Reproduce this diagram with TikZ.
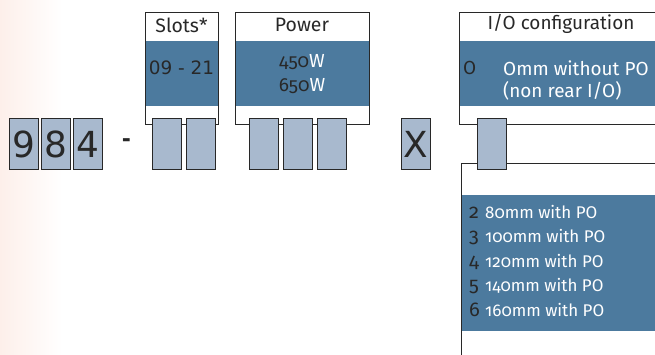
\documentclass[tikz,border=0pt]{standalone}
\usepackage{fontspec}
\setmainfont{Fira Sans}[Numbers=OldStyle]
\newfontfamily\digitfont{DejaVu Sans}
\usepackage{tikz}
\usetikzlibrary{positioning}
\definecolor{codeblue}{RGB}{76,122,158}
\definecolor{codebox}{RGB}{168,185,206}
\definecolor{codeink}{RGB}{40,40,40}
\definecolor{codepeach}{RGB}{253,239,234}

\begin{document}
\begin{tikzpicture}[x=1bp,y=-1bp,
  frame/.style={fill=white,anchor=north west,inner sep=0pt},
  band/.style={fill=codeblue,anchor=north west,inner sep=0pt},
  rim/.style={draw=codeink,line width=0.9pt},
  slot/.style={draw=codeink,line width=0.9pt,fill=codebox,anchor=north west,inner sep=0pt,
    minimum width=29bp,minimum height=51bp,font=\digitfont\fontsize{36}{36}\selectfont,text=codeink},
  head/.style={font=\fontsize{19.5}{20}\selectfont,text=codeink},
  val/.style={font=\fontsize{19}{20}\selectfont,text=codeink},
  wtxt/.style={font=\fontsize{19}{20}\selectfont,text=white},
  key/.style={font=\fontsize{20}{20}\selectfont,text=codeink,inner sep=0pt},
  item/.style={font=\fontsize{17}{18}\selectfont,text=white,inner sep=0pt}]
\useasboundingbox (0,0) rectangle (655,354);
\shade[left color=codepeach,right color=white] (0,0) rectangle (62,354);
% frames with their blue bands (right ones run off the page)
\node[frame,minimum width=73bp,minimum height=112bp] (fSlots) at (145,12) {};
\node[frame,minimum width=134bp,minimum height=112bp] (fPower) at (235,12) {};
\node[frame,minimum width=220bp,minimum height=112bp] (fIO) at (459,12) {};
\node[frame,minimum width=220bp,minimum height=220bp] (fOpt) at (461,163) {};
\node[band,minimum width=73bp,minimum height=65bp] (bSlots) at (145,41) {};
\node[band,minimum width=134bp,minimum height=65bp] (bPower) at (235,41) {};
\node[band,minimum width=196bp,minimum height=65bp] (bIO) at (459,41) {};
\node[band,minimum width=194bp,minimum height=136bp] (bOpt) at (461,195) {};
\foreach \f in {fSlots,fPower,fIO,fOpt}
  \draw[rim] (\f.north west) rectangle (\f.south east);
% headings
\node[head] (tSlots) at (181.5,25) {Slots*};
\node[head] (tPower) at (302,25) {Power};
\node[val] (tIO) at (561,24) {I/O configuration};
% contents of the bands
\node[font=\digitfont\fontsize{18.5}{20}\selectfont,text=codeink] (vSlots) at (181.5,68) {09 - 21};
\node[val] (vP1) at (302,62) {450\textcolor{white}{W}};
\node[val] (vP2) at (302,86) {650\textcolor{white}{W}};
\node[val,anchor=west,inner sep=0pt] (vIO) at (463,68) {O};
\node[wtxt,anchor=west,inner sep=0pt] (wIO1) at (503,68) {Omm without PO};
\node[wtxt,anchor=west,inner sep=0pt] (wIO2) at (503,91) {(non rear I/O)};
\foreach \k/\mm [count=\i from 0] in {2/80,3/100,4/120,5/140,6/160}{
  \node[key,anchor=base west] (k\k) at (469,{218+24.5*\i}) {\k};
  \node[item,anchor=base west] (o\k) at (485,{218+24.5*\i}) {\mm mm with PO};
}
% code boxes
\node[slot] (c9) at (9,118) {9};
\node[slot,right=2bp of c9.north east,anchor=north west] (c8) {8};
\node[slot,right=2bp of c8.north east,anchor=north west] (c4) {4};
\node[font=\digitfont\bfseries\fontsize{22}{22}\selectfont,text=codeink] (dash) at (126.5,143) {-};
\node[slot] (s1) at (152,118) {};
\node[slot] (s2) at (186,118) {};
\node[slot] (p1) at (249,118) {};
\node[slot] (p2) at (283,118) {};
\node[slot] (p3) at (317,118) {};
\node[slot] (cX) at (401,118) {X};
\node[slot] (cIO) at (477,118) {};
\end{tikzpicture}
\end{document}
